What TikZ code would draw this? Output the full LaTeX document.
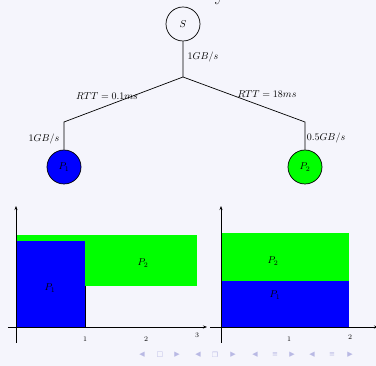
\documentclass[tikz,border=0pt]{standalone}
\usepackage{fontspec}
\newfontfamily\symfont{DejaVu Sans}
\usetikzlibrary{arrows.meta}
\definecolor{bgc}{RGB}{245,245,252}
\definecolor{navc}{RGB}{185,185,228}
\definecolor{pblue}{RGB}{0,0,255}
\definecolor{pgreen}{RGB}{0,255,0}
\tikzset{
  proc/.style={circle,draw=black,line width=0.7pt,minimum size=34pt,inner sep=0pt,font=\normalsize},
  wire/.style={line width=0.7pt},
  lbl/.style={inner sep=0pt,font=\normalsize},
  tick/.style={inner sep=0pt,font=\scriptsize},
  axis/.style={line width=0.8pt,-{Stealth[length=4pt,width=3pt]}},
  nav/.style={inner sep=0pt,text=navc,font=\symfont\fontsize{7}{8}\selectfont}
}
\begin{document}
\begin{tikzpicture}[x=1pt,y=-1pt]
\useasboundingbox (0,0) rectangle (376,366);
\fill[bgc] (0,0) rectangle (376,366);
\begin{scope}
\clip (0,0) rectangle (376,366);
\node[anchor=base,inner sep=0pt,font=\huge] (title) at (220,1) {y};
% right chart x axis (arrow partly outside)
\draw[axis] (210,327) -- (378,327);
\end{scope}
% tree
\node[proc] (S) at (183,24) {$S$};
\node[proc,fill=pblue] (P1) at (64,167) {$P_1$};
\node[proc,fill=pgreen] (P2) at (305,167) {$P_2$};
\coordinate (j) at (183,77);
\coordinate (l) at (64,122);
\coordinate (r) at (305,122);
\draw[wire] (S) -- (j) -- (l) -- (P1);
\draw[wire] (j) -- (r) -- (P2);
\node[lbl] (bw0) at (203,57) {$1GB/s$};
\node[lbl] (bw1) at (44,139) {$1GB/s$};
\node[lbl] (bw2) at (326,138) {$0.5GB/s$};
\node[lbl] (rtt1) at (107,96) {$RTT = 0.1ms$};
\node[lbl] (rtt2) at (267,94) {$RTT = 18ms$};
% left chart
\fill[pgreen] (16,235) rectangle (197,286);
\fill[pblue] (16,241) rectangle (85,327);
\draw[line width=0.5pt] (85,286) -- (85,327);
\draw[axis] (16,343) -- (16,206);
\draw[axis] (8,327) -- (207,327);
\node[lbl] (lp1) at (50,288) {$P_1$};
\node[lbl] (lp2) at (143,263) {$P_2$};
\node[tick] (lt1) at (85,339) {1};
\node[tick] (lt2) at (146,339) {2};
\node[tick] (lt3) at (197,335) {3};
% right chart
\fill[pgreen] (221,233) rectangle (349,281);
\fill[pblue] (221,281) rectangle (349,327);
\draw[axis] (221,343) -- (221,206);
\node[lbl] (rp2) at (273,261) {$P_2$};
\node[lbl] (rp1) at (275,295) {$P_1$};
\node[tick] (rt1) at (289,339) {1};
\node[tick] (rt2) at (350,337) {2};
% navigation symbols
\node[nav] (n1) at (142,355) {◀};
\node[nav] (n2) at (160,355) {□};
\node[nav] (n3) at (177,355) {▶};
\node[nav] (n4) at (198,355) {◀};
\node[nav] (n5) at (215,355) {❐};
\node[nav] (n6) at (233,355) {▶};
\node[nav] (n7) at (255,355) {◀};
\node[nav] (n8) at (275,355) {≡};
\node[nav] (n9) at (292,355) {▶};
\node[nav] (n10) at (312,355) {◀};
\node[nav] (n11) at (332,355) {≡};
\node[nav] (n12) at (350,355) {▶};
\end{tikzpicture}
\end{document}
